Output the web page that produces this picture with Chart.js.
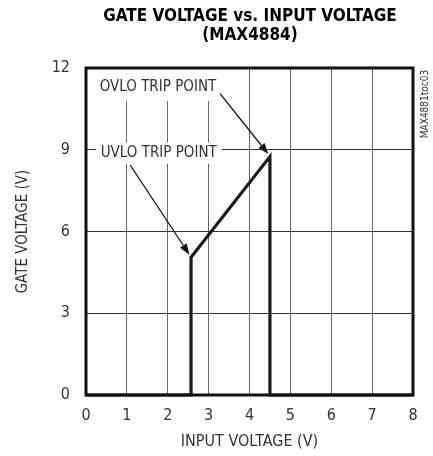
<!DOCTYPE html>
<html>
<head>
<meta charset="utf-8">
<script src="https://cdn.jsdelivr.net/npm/chart.js@4"></script>
<style>
  html, body { margin: 0; padding: 0; background: #fff; }
  canvas { display: block; }
</style>
</head>
<body>
<canvas id="gateChart" width="433" height="456"></canvas>
<script>
// 데이터
const inputVoltage = [0, 2.57, 2.57, 4.5, 4.5, 8];
const gateVoltage = [0, 0, 5.05, 8.75, 0, 0];
const xTickValues = [0, 1, 2, 3, 4, 5, 6, 7, 8];
const yTickValues = [0, 3, 6, 9, 12];
const titleLines = ['GATE VOLTAGE vs. INPUT VOLTAGE', '(MAX4884)'];

// 주석 (데이터 좌표)
const notes = [
    { text: 'OVLO TRIP POINT', x: 1.76, y: 11.34, from: [3.28, 11.06], to: [4.46, 8.84], above: 18, below: 15 },
    { text: 'UVLO TRIP POINT', x: 1.78, y: 8.93, from: [1.08, 8.44], to: [2.53, 5.15], above: 9, below: 12 }
];

const FONT = "'Liberation Sans Narrow', 'DejaVu Sans Condensed', sans-serif";

// 제목, 테두리, 주석 그리기
const decorPlugin = {
    id: 'decor',
    afterDatasetsDraw(chart) {
        const ctx = chart.ctx;
        const xs = chart.scales.x;
        const ys = chart.scales.y;
        const area = chart.chartArea;

        ctx.save();
        // 주석
        ctx.font = '15px ' + FONT;
        ctx.textAlign = 'center';
        ctx.textBaseline = 'middle';
        notes.forEach(n => {
            const cx = xs.getPixelForValue(n.x);
            const cy = ys.getPixelForValue(n.y);
            const w = ctx.measureText(n.text).width;
            ctx.fillStyle = '#fff';
            ctx.fillRect(cx - w / 2 - 5, cy - n.above, w + 10, n.above + n.below);
            ctx.fillStyle = '#333';
            ctx.fillText(n.text, cx, cy + 1);

            const x1 = xs.getPixelForValue(n.from[0]);
            const y1 = ys.getPixelForValue(n.from[1]);
            const x2 = xs.getPixelForValue(n.to[0]);
            const y2 = ys.getPixelForValue(n.to[1]);
            const ang = Math.atan2(y2 - y1, x2 - x1);
            const len = 11, half = 4;
            const bx = x2 - len * Math.cos(ang);
            const by = y2 - len * Math.sin(ang);
            ctx.strokeStyle = '#111';
            ctx.lineWidth = 1.3;
            ctx.beginPath();
            ctx.moveTo(x1, y1);
            ctx.lineTo(bx, by);
            ctx.stroke();
            ctx.fillStyle = '#111';
            ctx.beginPath();
            ctx.moveTo(x2, y2);
            ctx.lineTo(bx + half * Math.sin(ang), by - half * Math.cos(ang));
            ctx.lineTo(bx - half * Math.sin(ang), by + half * Math.cos(ang));
            ctx.closePath();
            ctx.fill();
        });

        // 프레임
        ctx.strokeStyle = '#111';
        ctx.lineWidth = 3;
        ctx.strokeRect(area.left, area.top, area.right - area.left, area.bottom - area.top);

        // 제목
        ctx.fillStyle = '#000';
        ctx.font = 'bold 17px ' + FONT;
        ctx.fillText(titleLines[0], 250, 17);
        ctx.fillText(titleLines[1], 250, 36);

        // 오른쪽 작은 코드
        ctx.translate(425, 104);
        ctx.rotate(-Math.PI / 2);
        ctx.font = '10px ' + FONT;
        ctx.fillStyle = '#333';
        ctx.fillText('MAX4881toc03', 0, 0);
        ctx.restore();
    }
};

const gateChart = new Chart(document.getElementById('gateChart'), {
    type: 'scatter',
    data: {
        datasets: [{
            data: inputVoltage.map((v, i) => ({ x: v, y: gateVoltage[i] })),
            showLine: true,
            borderColor: '#1a1a1a',
            borderWidth: 3.2,
            pointRadius: 0,
            fill: false,
            tension: 0,
            clip: false
        }]
    },
    options: {
        responsive: false,
        animation: false,
        layout: {
            padding: { top: 68, right: 20, left: 0, bottom: 0 }
        },
        plugins: {
            legend: { display: false },
            tooltip: { enabled: false }
        },
        scales: {
            x: {
                type: 'linear',
                min: 0,
                max: 8,
                afterBuildTicks: s => { s.ticks = xTickValues.map(v => ({ value: v })); },
                afterFit: s => { s.height = 61; },
                grid: { color: '#666', lineWidth: 1, drawTicks: false },
                border: { display: false },
                ticks: {
                    padding: 11,
                    color: '#333',
                    font: { family: FONT, size: 16 }
                },
                title: {
                    display: true,
                    text: 'INPUT VOLTAGE (V)',
                    color: '#333',
                    font: { family: FONT, size: 16 },
                    padding: { top: 0, bottom: 5 }
                }
            },
            y: {
                type: 'linear',
                min: 0,
                max: 12,
                afterBuildTicks: s => { s.ticks = yTickValues.map(v => ({ value: v })); },
                afterFit: s => { s.width = 86; },
                grid: { color: '#333', lineWidth: 1, drawTicks: false },
                border: { display: false },
                ticks: {
                    padding: 16,
                    color: '#333',
                    font: { family: FONT, size: 16 }
                },
                title: {
                    display: true,
                    text: 'GATE VOLTAGE (V)',
                    color: '#333',
                    font: { family: FONT, size: 15 },
                    padding: { top: 14, bottom: 0 }
                }
            }
        }
    },
    plugins: [decorPlugin]
});
</script>
</body>
</html>
